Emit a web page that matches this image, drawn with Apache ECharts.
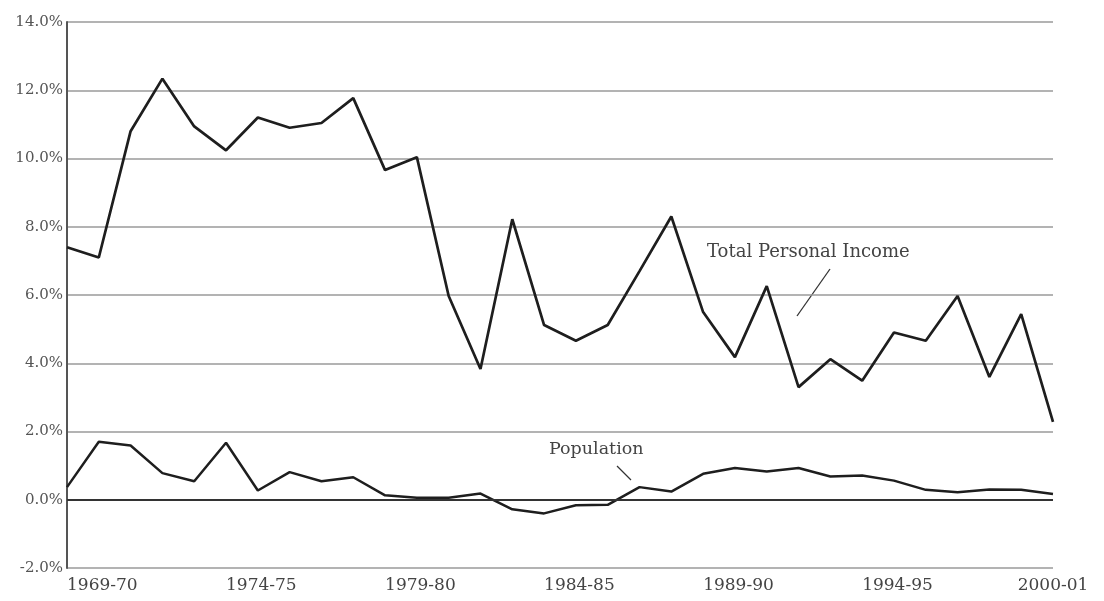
<!DOCTYPE html>
<html>
<head>
<meta charset="utf-8">
<script src="https://cdn.jsdelivr.net/npm/echarts@6/dist/echarts.min.js"></script>
<style>
  html, body { margin: 0; padding: 0; background: #fff; }
  #main { width: 1104px; height: 601px; }
</style>
</head>
<body>
<div id="main"></div>
<script>
// 年份 1969-70 ... 2000-01
const years = [];
for (let y = 1969; y <= 2000; y++) {
  years.push(y + '-' + String((y + 1) % 100).padStart(2, '0'));
}
const labelYears = ['1969-70', '1974-75', '1979-80', '1984-85', '1989-90', '1994-95', '2000-01'];

// 个人总收入增长率
const incomeGrowth = [7.4, 7.1, 10.8, 12.34, 10.94, 10.24, 11.2, 10.9, 11.04, 11.77,
  9.66, 10.04, 5.97, 3.83, 8.22, 5.12, 4.66, 5.12, 6.7, 8.3,
  5.5, 4.18, 6.26, 3.3, 4.12, 3.49, 4.9, 4.66, 5.97, 3.6,
  5.44, 2.28];
// 人口增长率
const populationGrowth = [0.37, 1.7, 1.59, 0.78, 0.54, 1.67, 0.27, 0.81, 0.54, 0.66,
  0.13, 0.06, 0.06, 0.18, -0.28, -0.4, -0.16, -0.15, 0.37, 0.24,
  0.76, 0.93, 0.83, 0.93, 0.68, 0.71, 0.56, 0.29, 0.22, 0.3,
  0.29, 0.17];

const font = '"DejaVu Serif", "Liberation Serif", serif';
const chart = echarts.init(document.getElementById('main'));
chart.setOption({
  animation: false,
  backgroundColor: '#fff',
  grid: { left: 67, right: 51, top: 22, bottom: 33 },
  xAxis: {
    type: 'category',
    data: years,
    boundaryGap: false,
    axisTick: { show: false },
    axisLine: { show: false, onZero: false },
    splitLine: { show: false },
    axisLabel: {
      interval: (idx, val) => labelYears.indexOf(val) >= 0,
      align: 'left',
      alignMaxLabel: 'center',
      color: '#444',
      fontFamily: font,
      fontSize: 17,
      margin: 9
    }
  },
  yAxis: {
    type: 'value',
    min: -2,
    max: 14,
    interval: 2,
    axisTick: { show: false },
    axisLine: { show: true, lineStyle: { color: '#555', width: 2 } },
    splitLine: { show: true, lineStyle: { color: '#9a9a9a', width: 1.5 } },
    axisLabel: {
      formatter: v => v.toFixed(1) + '%',
      color: '#555',
      fontFamily: font,
      fontSize: 15,
      margin: 4
    }
  },
  series: [
    {
      name: 'Total Personal Income',
      type: 'line',
      data: incomeGrowth,
      symbol: 'none',
      lineStyle: { color: '#1e1e1e', width: 2.7 },
      markLine: {
        silent: true,
        symbol: 'none',
        label: { show: false },
        lineStyle: { color: '#333', width: 2, type: 'solid' },
        data: [{ yAxis: 0 }]
      }
    },
    {
      name: 'Population',
      type: 'line',
      data: populationGrowth,
      symbol: 'none',
      lineStyle: { color: '#1e1e1e', width: 2.5 }
    }
  ],
  graphic: [
    {
      type: 'text', left: 707, top: 243,
      style: { text: 'Total Personal Income', fontFamily: font, fontSize: 18, fill: '#444' }
    },
    {
      type: 'line', shape: { x1: 830, y1: 269, x2: 797, y2: 316 },
      style: { stroke: '#333', lineWidth: 1.3 }
    },
    {
      type: 'text', left: 549, top: 440,
      style: { text: 'Population', fontFamily: font, fontSize: 17.5, fill: '#444' }
    },
    {
      type: 'line', shape: { x1: 617, y1: 466, x2: 631, y2: 480 },
      style: { stroke: '#333', lineWidth: 1.3 }
    }
  ]
});
</script>
</body>
</html>
